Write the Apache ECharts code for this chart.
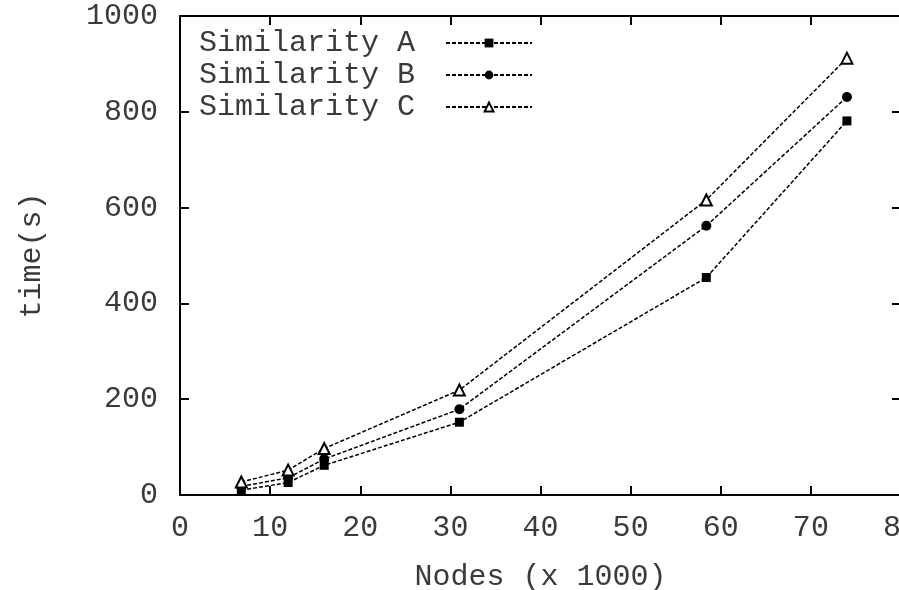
<!DOCTYPE html>
<html>
<head>
<meta charset="utf-8">
<script src="https://cdn.jsdelivr.net/npm/echarts@6/dist/echarts.min.js"></script>
<style>html,body{margin:0;padding:0;background:#fff}#c{width:899px;height:590px}</style>
</head>
<body>
<div id="c"></div>
<script>
const nodes = [6.8, 12, 16, 31, 58.4, 74];
const simA = [10, 26, 62, 152, 454, 781];
const simB = [18, 36, 75, 179, 562, 831];
const simC = [27, 52, 97, 219, 616, 912];
const seriesNames = ['Similarity A', 'Similarity B', 'Similarity C'];
const xTitle = 'Nodes (x 1000)';
const yTitle = 'time(s)';

const FONT = '"Liberation Mono", "Courier New", monospace';
const FS = 30;
const TXT = '#3a3a3a';

function pairs(ys) { return nodes.map((x, i) => [x, ys[i]]); }

const lineStyle = { color: '#000', width: 1.5, type: [4, 2] };
const axisLineStyle = { color: '#000', width: 2 };

const chart = echarts.init(document.getElementById('c'), null, { renderer: 'canvas' });
chart.setOption({
  animation: false,
  backgroundColor: '#fff',
  grid: { left: 180, top: 16, width: 721, height: 479, containLabel: false, outerBoundsMode: 'none' },
  legend: {
    data: seriesNames,
    orient: 'vertical',
    left: 194,
    top: 22,
    align: 'right',
    itemWidth: 86,
    itemHeight: 11,
    itemGap: 0,
    textStyle: { fontFamily: FONT, fontSize: FS, color: TXT, lineHeight: 32, padding: [0, 26, 0, 0] }
  },
  xAxis: [{
    type: 'value', min: 0, max: 80, interval: 10, position: 'bottom',
    name: xTitle, nameLocation: 'middle', nameGap: 67,
    nameTextStyle: { fontFamily: FONT, fontSize: FS, color: TXT },
    axisLine: { onZero: false, lineStyle: axisLineStyle },
    axisTick: { inside: true, length: 9, lineStyle: axisLineStyle },
    axisLabel: { fontFamily: FONT, fontSize: FS, color: TXT, margin: 18, showMaxLabel: true, hideOverlap: false },
    splitLine: { show: false }
  }, {
    type: 'value', min: 0, max: 80, interval: 10, position: 'top',
    axisLine: { show: true, onZero: false, lineStyle: axisLineStyle },
    axisTick: { inside: true, length: 9, lineStyle: axisLineStyle },
    axisLabel: { show: false },
    splitLine: { show: false }
  }],
  yAxis: [{
    type: 'value', min: 0, max: 1000, interval: 200, position: 'left',
    name: yTitle, nameLocation: 'middle', nameGap: 133, nameRotate: 90,
    nameTextStyle: { fontFamily: FONT, fontSize: FS, color: TXT },
    axisLine: { show: true, onZero: false, lineStyle: axisLineStyle },
    axisTick: { show: true, inside: true, length: 9, lineStyle: axisLineStyle },
    axisLabel: { fontFamily: FONT, fontSize: FS, color: TXT, margin: 22, formatter: v => String(v) },
    splitLine: { show: false }
  }, {
    type: 'value', min: 0, max: 1000, interval: 200, position: 'right',
    axisLine: { show: true, onZero: false, lineStyle: axisLineStyle },
    axisTick: { show: true, inside: true, length: 9, lineStyle: axisLineStyle },
    axisLabel: { show: false },
    splitLine: { show: false }
  }],
  series: [
    { name: seriesNames[0], type: 'line', data: pairs(simA), symbol: 'rect', symbolSize: 9,
      itemStyle: { color: '#000' }, lineStyle: lineStyle },
    { name: seriesNames[1], type: 'line', data: pairs(simB), symbol: 'circle', symbolSize: 10,
      itemStyle: { color: '#000' }, lineStyle: lineStyle },
    { name: seriesNames[2], type: 'line', data: pairs(simC), symbol: 'triangle', symbolSize: 11,
      itemStyle: { color: '#fff', borderColor: '#000', borderWidth: 2 }, lineStyle: lineStyle }
  ]
});
</script>
</body>
</html>
